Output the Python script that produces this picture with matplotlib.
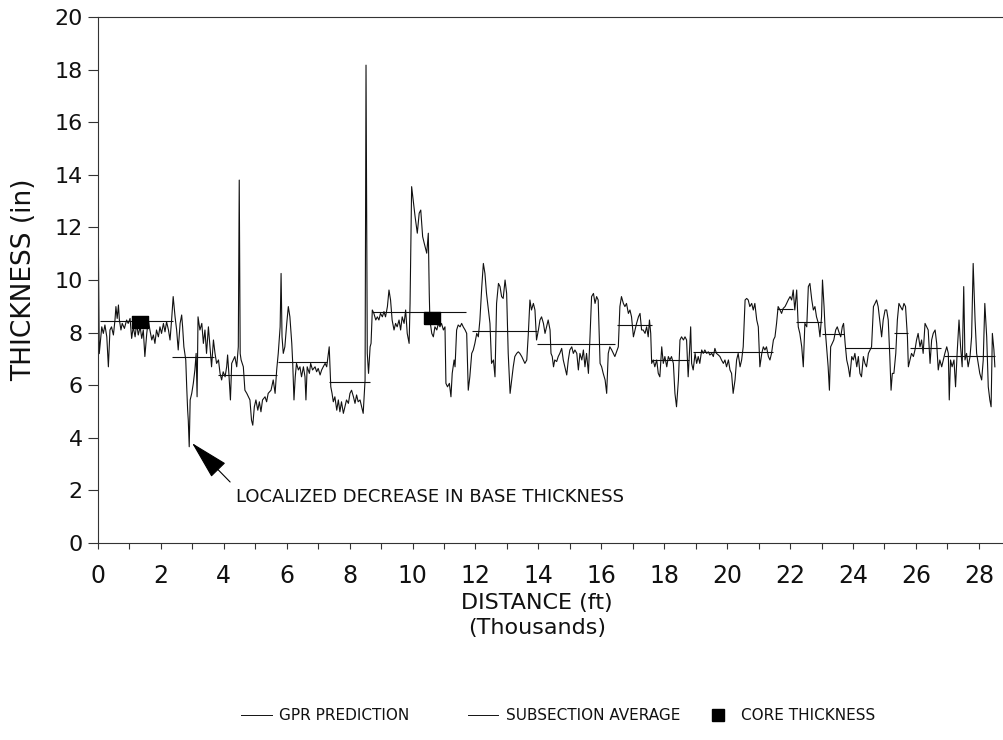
import matplotlib
matplotlib.use("Agg")
import matplotlib.pyplot as plt
from matplotlib.lines import Line2D
from matplotlib.ticker import MultipleLocator

plt.rcParams['font.family'] = ['DejaVu Sans']

# GPR predicted base thickness along the section (distance in thousands of ft, thickness in inches)
gpr_dist = [
    0.00, 0.01, 0.04, 0.12, 0.17, 0.22, 0.28, 0.33, 0.38, 0.43, 0.49, 0.54, 0.57, 0.61, 0.65, 0.68,
    0.73, 0.77, 0.84, 0.91, 0.96, 1.02, 1.07, 1.12, 1.18, 1.23, 1.28, 1.34, 1.39, 1.44, 1.49, 1.55,
    1.60, 1.65, 1.71, 1.76, 1.81, 1.86, 1.92, 1.97, 2.02, 2.08, 2.13, 2.18, 2.24, 2.29, 2.34, 2.39,
    2.45, 2.50, 2.55, 2.61, 2.66, 2.69, 2.73, 2.79, 2.82, 2.85, 2.87, 2.90, 2.93, 2.98, 3.03, 3.08,
    3.12, 3.15, 3.18, 3.24, 3.30, 3.35, 3.40, 3.45, 3.51, 3.56, 3.61, 3.67, 3.72, 3.77, 3.83, 3.88,
    3.93, 3.98, 4.04, 4.09, 4.12, 4.16, 4.21, 4.25, 4.30, 4.35, 4.41, 4.46, 4.49, 4.52, 4.55, 4.62,
    4.67, 4.73, 4.78, 4.83, 4.88, 4.92, 4.97, 5.02, 5.08, 5.13, 5.18, 5.23, 5.31, 5.36, 5.41, 5.50,
    5.57, 5.63, 5.68, 5.73, 5.79, 5.82, 5.85, 5.89, 5.94, 6.00, 6.05, 6.10, 6.16, 6.19, 6.23, 6.27,
    6.31, 6.37, 6.42, 6.47, 6.53, 6.58, 6.61, 6.65, 6.72, 6.76, 6.82, 6.90, 6.95, 7.00, 7.06, 7.11,
    7.16, 7.22, 7.27, 7.35, 7.40, 7.44, 7.48, 7.53, 7.59, 7.64, 7.69, 7.74, 7.80, 7.85, 7.90, 7.96,
    8.01, 8.06, 8.12, 8.17, 8.22, 8.27, 8.33, 8.38, 8.43, 8.49, 8.52, 8.56, 8.60, 8.65, 8.68, 8.72,
    8.77, 8.83, 8.88, 8.93, 8.98, 9.04, 9.09, 9.14, 9.20, 9.25, 9.30, 9.35, 9.41, 9.46, 9.51, 9.57,
    9.62, 9.67, 9.73, 9.78, 9.83, 9.89, 9.92, 9.97, 10.08, 10.15, 10.21, 10.26, 10.32, 10.37, 10.45, 10.50,
    10.53, 10.55, 10.61, 10.66, 10.71, 10.77, 10.82, 10.87, 10.92, 10.98, 11.03, 11.06, 11.11, 11.17, 11.22, 11.26,
    11.32, 11.35, 11.40, 11.45, 11.51, 11.56, 11.61, 11.67, 11.72, 11.77, 11.82, 11.88, 11.93, 11.98, 12.04, 12.09,
    12.14, 12.20, 12.25, 12.30, 12.35, 12.41, 12.46, 12.51, 12.57, 12.62, 12.67, 12.73, 12.78, 12.83, 12.88, 12.94,
    12.99, 13.04, 13.10, 13.15, 13.20, 13.25, 13.31, 13.36, 13.41, 13.47, 13.52, 13.57, 13.63, 13.68, 13.73, 13.78,
    13.84, 13.89, 13.94, 14.00, 14.05, 14.10, 14.16, 14.21, 14.26, 14.31, 14.37, 14.40, 14.44, 14.48, 14.52, 14.58,
    14.63, 14.68, 14.74, 14.79, 14.84, 14.90, 14.95, 15.00, 15.06, 15.11, 15.16, 15.22, 15.27, 15.32, 15.38, 15.43,
    15.48, 15.53, 15.59, 15.64, 15.69, 15.75, 15.80, 15.85, 15.90, 15.96, 16.01, 16.06, 16.12, 16.17, 16.22, 16.27,
    16.33, 16.38, 16.43, 16.54, 16.59, 16.64, 16.70, 16.75, 16.80, 16.86, 16.91, 16.96, 17.02, 17.07, 17.12, 17.18,
    17.23, 17.28, 17.33, 17.39, 17.44, 17.49, 17.53, 17.57, 17.60, 17.65, 17.70, 17.76, 17.81, 17.86, 17.92, 17.97,
    18.02, 18.08, 18.13, 18.18, 18.23, 18.29, 18.34, 18.39, 18.45, 18.50, 18.55, 18.61, 18.66, 18.71, 18.76, 18.80,
    18.84, 18.87, 18.92, 18.98, 19.03, 19.08, 19.13, 19.19, 19.24, 19.29, 19.35, 19.40, 19.45, 19.51, 19.56, 19.61,
    19.66, 19.72, 19.77, 19.82, 19.88, 19.93, 19.98, 20.04, 20.09, 20.14, 20.19, 20.25, 20.30, 20.35, 20.41, 20.46,
    20.51, 20.57, 20.62, 20.67, 20.72, 20.78, 20.83, 20.88, 20.94, 20.99, 21.04, 21.10, 21.15, 21.20, 21.25, 21.31,
    21.36, 21.41, 21.47, 21.52, 21.57, 21.62, 21.68, 21.73, 21.78, 21.84, 21.89, 21.94, 22.00, 22.05, 22.10, 22.15,
    22.21, 22.26, 22.31, 22.37, 22.42, 22.47, 22.53, 22.58, 22.63, 22.69, 22.74, 22.79, 22.84, 22.90, 22.95, 23.00,
    23.03, 23.08, 23.11, 23.16, 23.21, 23.25, 23.29, 23.34, 23.39, 23.45, 23.50, 23.55, 23.61, 23.66, 23.70, 23.75,
    23.80, 23.85, 23.90, 23.96, 24.01, 24.06, 24.12, 24.17, 24.22, 24.27, 24.33, 24.38, 24.43, 24.49, 24.54, 24.59,
    24.65, 24.70, 24.75, 24.80, 24.86, 24.91, 24.96, 25.02, 25.07, 25.12, 25.17, 25.21, 25.25, 25.30, 25.36, 25.41,
    25.46, 25.51, 25.57, 25.62, 25.67, 25.73, 25.76, 25.81, 25.86, 25.92, 25.97, 26.02, 26.07, 26.13, 26.18, 26.23,
    26.29, 26.34, 26.39, 26.45, 26.50, 26.55, 26.61, 26.66, 26.71, 26.76, 26.82, 26.87, 26.92, 26.98, 27.03, 27.06,
    27.10, 27.15, 27.21, 27.26, 27.31, 27.37, 27.42, 27.47, 27.52, 27.56, 27.61, 27.66, 27.72, 27.77, 27.82, 27.88,
    27.93, 27.98, 28.03, 28.09, 28.14, 28.19, 28.25, 28.30, 28.35, 28.39, 28.43, 28.48, 28.51,
]
gpr_thick = [
    19.3, 11.65, 7.2, 8.22, 7.97, 8.29, 7.84, 6.70, 8.10, 8.22, 7.91, 8.48, 8.99, 8.54, 9.05, 8.48,
    8.10, 8.35, 8.16, 8.48, 8.35, 8.54, 7.78, 8.22, 7.84, 8.35, 7.91, 8.22, 7.78, 8.10, 7.09, 7.97,
    8.48, 8.10, 7.72, 7.91, 7.59, 8.10, 7.84, 8.22, 7.97, 8.35, 8.03, 8.41, 8.10, 7.72, 8.48, 9.37,
    8.60, 8.10, 7.34, 8.35, 8.67, 8.22, 7.46, 6.96, 5.94, 5.05, 4.67, 3.66, 5.44, 5.69, 6.07, 6.58,
    7.21, 5.56, 8.60, 8.10, 8.35, 7.59, 8.10, 7.21, 8.22, 7.46, 6.70, 7.72, 7.21, 6.83, 6.96, 6.45,
    6.20, 6.51, 6.32, 6.70, 7.15, 6.45, 5.44, 6.83, 6.96, 7.09, 6.70, 7.46, 13.80, 7.20, 6.96, 6.70,
    5.81, 5.69, 5.56, 5.44, 4.67, 4.48, 5.18, 5.44, 5.05, 5.37, 4.99, 5.44, 5.56, 5.37, 5.69, 5.81,
    6.20, 5.69, 6.58, 7.21, 8.22, 10.25, 7.84, 7.21, 7.46, 8.35, 8.99, 8.60, 7.59, 6.83, 5.44, 6.32,
    6.83, 6.58, 6.70, 6.32, 6.70, 6.32, 5.44, 6.70, 6.45, 6.83, 6.58, 6.70, 6.51, 6.64, 6.39, 6.58,
    6.70, 6.83, 6.70, 7.46, 5.94, 5.69, 5.37, 5.56, 5.05, 5.44, 4.99, 5.37, 4.93, 5.18, 5.44, 5.31,
    5.69, 5.81, 5.56, 5.31, 5.63, 5.37, 5.44, 5.18, 4.93, 6.20, 18.17, 7.21, 6.45, 7.46, 7.59, 8.86,
    8.73, 8.48, 8.60, 8.48, 8.73, 8.60, 8.80, 8.60, 8.99, 9.62, 9.24, 8.48, 8.10, 8.35, 8.22, 8.48,
    8.10, 8.60, 8.35, 8.86, 7.97, 7.59, 9.11, 13.55, 12.41, 11.78, 12.54, 12.66, 11.65, 11.40, 11.02, 11.78,
    9.50, 8.48, 7.97, 7.84, 8.22, 8.10, 8.35, 8.22, 8.35, 8.10, 8.22, 6.07, 5.94, 6.07, 5.56, 6.45,
    6.96, 6.70, 8.10, 8.29, 8.22, 8.35, 8.22, 8.10, 7.97, 5.81, 6.32, 7.21, 7.34, 7.59, 7.97, 7.84,
    8.48, 9.75, 10.63, 10.25, 9.49, 8.86, 8.35, 6.83, 6.96, 6.32, 9.11, 9.87, 9.75, 9.37, 9.30, 10.00,
    9.49, 7.21, 5.69, 6.20, 6.70, 7.09, 7.21, 7.27, 7.21, 7.09, 6.96, 6.83, 6.96, 7.97, 9.24, 8.86,
    9.11, 8.86, 7.72, 8.10, 8.48, 8.60, 8.35, 7.97, 8.22, 8.48, 8.10, 7.21, 7.09, 6.70, 6.96, 6.90,
    7.09, 7.21, 7.40, 6.96, 6.70, 6.39, 6.96, 7.34, 7.46, 7.21, 7.34, 7.21, 6.58, 7.21, 6.96, 7.34,
    6.70, 7.21, 6.45, 7.84, 9.37, 9.49, 9.11, 9.37, 9.24, 6.83, 6.70, 6.45, 6.20, 5.69, 7.21, 7.46,
    7.34, 7.21, 7.09, 7.46, 8.99, 9.37, 9.11, 8.99, 9.11, 8.73, 8.86, 8.60, 7.84, 8.10, 8.35, 8.60,
    8.73, 8.10, 8.10, 7.97, 8.22, 7.84, 8.48, 7.97, 6.83, 6.96, 6.70, 6.96, 6.45, 6.32, 7.46, 6.83,
    7.09, 6.70, 7.09, 6.96, 7.09, 6.83, 5.69, 5.18, 6.20, 7.72, 7.84, 7.72, 7.84, 7.72, 6.32, 7.21,
    8.22, 6.83, 6.58, 7.21, 6.83, 7.09, 6.83, 7.34, 7.21, 7.34, 7.21, 7.27, 7.15, 7.21, 7.09, 7.40,
    7.21, 7.15, 7.09, 6.96, 6.83, 6.96, 6.70, 6.96, 6.58, 6.45, 5.69, 6.20, 6.96, 7.21, 6.70, 6.96,
    7.46, 9.24, 9.30, 9.24, 8.99, 9.11, 8.86, 9.11, 8.48, 8.22, 6.70, 7.21, 7.46, 7.34, 7.46, 7.09,
    6.96, 7.21, 7.72, 7.84, 8.35, 8.99, 8.86, 8.73, 8.92, 8.99, 9.11, 9.24, 9.37, 9.24, 9.62, 8.86,
    9.62, 8.22, 7.97, 7.46, 6.70, 8.35, 8.22, 9.75, 9.87, 9.24, 8.86, 8.99, 8.60, 8.35, 7.84, 8.60,
    10.00, 8.99, 8.22, 7.46, 6.70, 5.81, 7.46, 7.59, 7.72, 8.10, 8.22, 8.03, 7.84, 8.22, 8.35, 7.59,
    6.96, 6.70, 6.32, 7.09, 6.96, 7.21, 6.70, 7.09, 6.45, 6.32, 7.09, 6.83, 6.70, 7.21, 7.34, 7.46,
    8.99, 9.11, 9.24, 8.99, 8.35, 7.84, 8.48, 8.86, 8.86, 8.48, 7.09, 5.81, 6.45, 6.45, 7.21, 8.48,
    9.11, 8.99, 8.86, 9.11, 8.99, 7.84, 6.70, 6.96, 7.21, 7.09, 7.34, 7.72, 7.97, 7.46, 7.72, 7.21,
    8.35, 8.22, 8.10, 6.83, 7.72, 7.97, 8.10, 7.59, 6.58, 6.96, 6.70, 6.96, 7.21, 7.46, 7.21, 5.44,
    6.96, 6.70, 6.96, 5.94, 7.21, 8.48, 7.46, 6.70, 9.75, 6.96, 7.21, 6.70, 7.09, 7.84, 10.63, 8.48,
    7.21, 6.83, 6.45, 6.20, 6.96, 9.11, 7.84, 5.94, 5.44, 5.18, 7.97, 7.34, 6.70,
]

# subsection averages: start, end, mean thickness
sub_start = [0.05, 2.35, 3.80, 5.72, 7.35, 8.70, 11.90, 13.95, 16.50, 17.60, 18.90, 21.60, 22.20, 23.00, 23.75, 25.30, 25.80, 26.90]
sub_end = [2.40, 3.70, 5.70, 7.28, 8.65, 11.70, 13.95, 16.45, 17.60, 18.80, 21.45, 22.10, 23.00, 23.70, 25.30, 25.75, 26.80, 28.50]
sub_avg = [8.45, 7.07, 6.40, 6.88, 6.12, 8.77, 8.08, 7.55, 8.29, 6.96, 7.27, 8.88, 8.40, 7.95, 7.40, 8.00, 7.40, 7.11]

# cores
core_dist = [1.35, 10.63]
core_thick = [8.42, 8.54]

ink = '#111111'
# slightly wide box used for the core marker
core_box = [(-1, -0.73), (1, -0.73), (1, 0.73), (-1, 0.73), (-1, -0.73)]

fig = plt.figure(figsize=(10.04, 7.40), dpi=100)
ax = fig.add_axes([0.0976, 0.2662, 0.9024, 0.7108])

ax.plot(gpr_dist, gpr_thick, color=ink, lw=0.8)
ax.hlines(sub_avg, sub_start, sub_end, color=ink, lw=0.8)
ax.plot(core_dist, core_thick, ls='none', marker=core_box, color='black', markersize=11)

ax.set_xlim(0, 28.8)
ax.set_ylim(0, 20)
ax.xaxis.set_major_locator(MultipleLocator(2))
ax.xaxis.set_minor_locator(MultipleLocator(1))
ax.yaxis.set_major_locator(MultipleLocator(2))

for side in ['left', 'bottom', 'top']:
    ax.spines[side].set_linewidth(0.8)
    ax.spines[side].set_color('#333333')
ax.spines['right'].set_visible(False)

ax.tick_params(axis='y', which='major', direction='out', length=7, width=0.8, pad=4,
               labelsize=16, colors='#333333', labelcolor=ink)
ax.tick_params(axis='x', which='both', direction='out', length=4, width=0.8, pad=11,
               labelsize=17, colors='#333333', labelcolor=ink)

ax.set_ylabel('THICKNESS (in)', fontsize=19, color=ink, va='center')
ax.yaxis.set_label_coords(-0.0817, 0.5)
ax.set_xlabel('DISTANCE (ft)\n(Thousands)', fontsize=16, color=ink, linespacing=1.3, va='top')
ax.xaxis.set_label_coords(0.4845, -0.095)

ax.annotate('', xy=(2.99, 3.8), xytext=(4.2, 2.32),
            arrowprops=dict(arrowstyle='-|>,head_length=1.25,head_width=0.32',
                            mutation_scale=20, color='black', lw=0.8,
                            shrinkA=0, shrinkB=0))
ax.text(4.4, 1.75, 'LOCALIZED DECREASE IN BASE THICKNESS', fontsize=13,
        color=ink, va='center', ha='left')

# three legend entries laid out at fixed spots along the bottom
entries = [
    (Line2D([], [], color=ink, lw=0.7), 'GPR PREDICTION', 0.240),
    (Line2D([], [], color=ink, lw=0.7), 'SUBSECTION AVERAGE', 0.466),
    (Line2D([], [], ls='none', marker='s', color='black', markersize=8), 'CORE THICKNESS', 0.700),
]
for handle, label, x0 in entries:
    fig.legend([handle], [label], loc='center left', bbox_to_anchor=(x0, 0.033),
               frameon=False, fontsize=11, handlelength=2.0, handletextpad=0.5,
               borderpad=0, borderaxespad=0, labelcolor=ink)

fig.savefig('out.png', dpi=100)
